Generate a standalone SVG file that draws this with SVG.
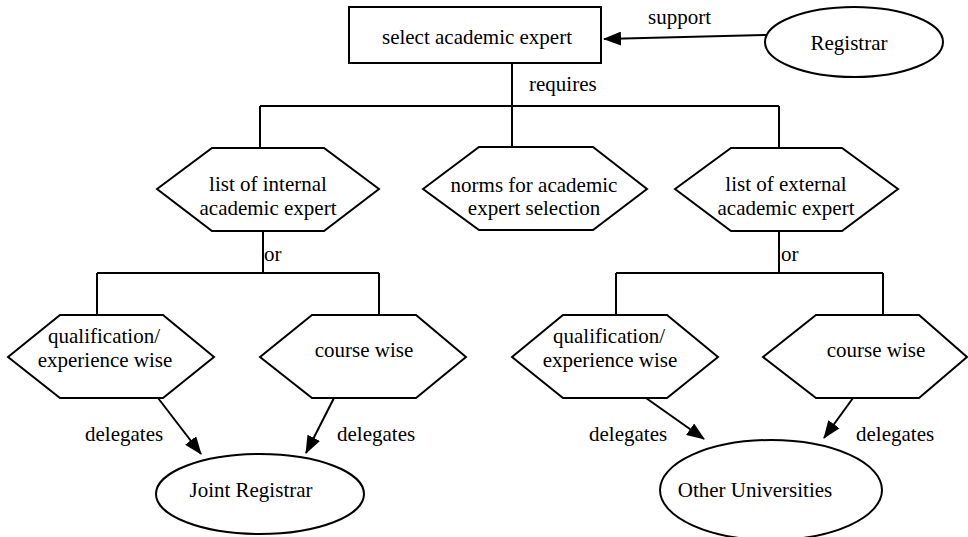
<svg xmlns="http://www.w3.org/2000/svg" width="968" height="537" viewBox="0 0 968 537">
<defs>
<style>
.s{fill:#fff;stroke:#000;stroke-width:2}
.c{fill:none;stroke:#000;stroke-width:2}
.u{font-family:'Liberation Serif',serif;font-size:21px;fill:#000}
.m{text-anchor:middle}
</style>
<marker id="ah2" viewBox="0 0 18 14" refX="17" refY="7" markerWidth="18" markerHeight="14" markerUnits="userSpaceOnUse" orient="auto">
<path d="M0,0 L18,7 L0,14 z" fill="#000"/>
</marker>
</defs>
<rect width="968" height="537" fill="#fff"/>
<g id="connectors">
<path class="c" d="M766,35 L604,39" marker-end="url(#ah2)"/>
<path class="c" d="M512,63 V106 M260,106 H779 M260,106 V148 M512,106 V148 M779,106 V148"/>
<path class="c" d="M263,231 V273 M97,273 H379 M97,273 V315 M379,273 V315"/>
<path class="c" d="M779,231 V273 M616,273 H883 M616,273 V315 M883,273 V315"/>
<path class="c" d="M158,398 L201,454" marker-end="url(#ah2)"/>
<path class="c" d="M334,398 L306,453" marker-end="url(#ah2)"/>
<path class="c" d="M646,398 L704,439" marker-end="url(#ah2)"/>
<path class="c" d="M853,398 L824,438" marker-end="url(#ah2)"/>
<text class="u" x="648" y="24">support</text>
<text class="u" x="529" y="91">requires</text>
<text class="u" x="264" y="261">or</text>
<text class="u" x="781" y="261">or</text>
<text class="u" x="85" y="441">delegates</text>
<text class="u" x="337" y="441">delegates</text>
<text class="u" x="589" y="441">delegates</text>
<text class="u" x="856" y="441">delegates</text>
</g>
<g id="select">
<rect class="s" x="349" y="7" width="252" height="56"/>
<text class="u m" x="477" y="44">select academic expert</text>
</g>
<g id="registrar">
<ellipse class="s" cx="854" cy="42" rx="89" ry="35"/>
<text class="u m" x="849" y="50">Registrar</text>
</g>
<g id="internal">
<polygon class="s" points="157,189 212,148 324,148 379,189 324,231 212,231"/>
<text class="u m" x="268" y="191">list of internal</text>
<text class="u m" x="268" y="215">academic expert</text>
</g>
<g id="norms">
<polygon class="s" points="423,189 479,147 593,147 647,189 593,230 479,230"/>
<text class="u m" x="534" y="192">norms for academic</text>
<text class="u m" x="534" y="215">expert selection</text>
</g>
<g id="external">
<polygon class="s" points="675,189 731,148 842,148 898,189 842,231 731,231"/>
<text class="u m" x="786" y="191">list of external</text>
<text class="u m" x="786" y="215">academic expert</text>
</g>
<g id="qual1">
<polygon class="s" points="8,357 60,315 163,315 214,357 163,398 60,398"/>
<text class="u m" x="104" y="343">qualification/</text>
<text class="u m" x="105" y="367">experience wise</text>
</g>
<g id="course1">
<polygon class="s" points="260,357 312,315 416,315 466,357 416,398 312,398"/>
<text class="u m" x="364" y="357">course wise</text>
</g>
<g id="qual2">
<polygon class="s" points="512,357 563,315 667,315 718,357 667,398 563,398"/>
<text class="u m" x="609" y="343">qualification/</text>
<text class="u m" x="610" y="367">experience wise</text>
</g>
<g id="course2">
<polygon class="s" points="763,357 816,315 919,315 967,357 919,398 816,398"/>
<text class="u m" x="876" y="357">course wise</text>
</g>
<g id="joint">
<ellipse class="s" cx="260" cy="494" rx="104" ry="40"/>
<text class="u m" x="251" y="497">Joint Registrar</text>
</g>
<g id="other">
<ellipse class="s" cx="771" cy="490" rx="111" ry="50"/>
<text class="u m" x="755" y="497">Other Universities</text>
</g>
</svg>
